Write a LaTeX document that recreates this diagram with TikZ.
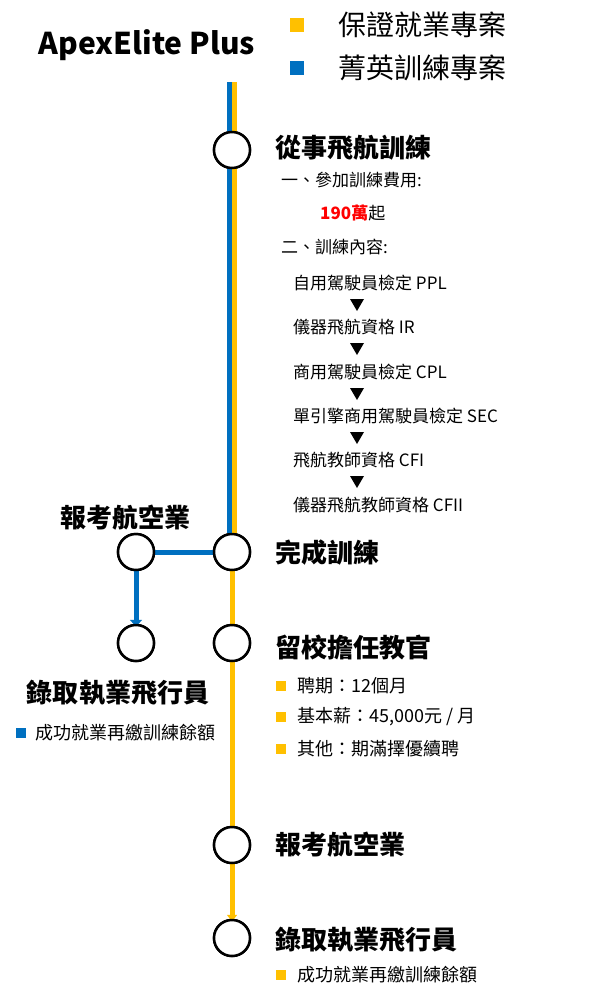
\documentclass[tikz,border=0pt]{standalone}
\usepackage{fontspec}
\setmainfont{Noto Sans CJK TC}
\usetikzlibrary{arrows.meta}
\definecolor{gold}{HTML}{FFC000}
\definecolor{azure}{HTML}{0070C0}
\definecolor{redtxt}{HTML}{FF0000}
\begin{document}
\begin{tikzpicture}
        [x=1pt, y=-1pt,
        station/.style={circle, draw=black, line width=2.5pt, fill=white, minimum size=36pt, inner sep=0pt},
        heading/.style={anchor=west, font=\fontsize{26}{28}\selectfont\bfseries, inner sep=0pt},
        detail/.style={anchor=west, font=\fontsize{17}{19}\selectfont, inner sep=0pt},
        bullet/.style={anchor=west, font=\fontsize{18}{20}\selectfont, inner sep=0pt},
        yline/.style={draw=gold, line width=5pt},
        bline/.style={draw=azure, line width=5pt},]

        \useasboundingbox (0,0) rectangle (600,998);

        % title and legend
        \node[font=\fontsize{30}{32}\selectfont\bfseries, inner sep=0pt] (title) at (147,45) {ApexElite Plus};
        \fill[gold] (290,18) rectangle (304,32);
        \fill[azure] (290,61) rectangle (304,75);
        \node[anchor=west, font=\fontsize{28}{30}\selectfont, inner sep=0pt] (lgold) at (338,25) {保證就業專案};
        \node[anchor=west, font=\fontsize{28}{30}\selectfont, inner sep=0pt] (lblue) at (338,68) {菁英訓練專案};

        % stations
        \coordinate (top) at (232,82);
        \node[station] (train) at (232,150) {};
        \node[station] (done) at (232,552) {};
        \node[station] (stay) at (232,643) {};
        \node[station] (apply) at (232,845) {};
        \node[station] (hired) at (232,938) {};
        \node[station] (applyL) at (136,552) {};
        \node[station] (hiredL) at (136,643) {};

        % lines
        \draw[bline] ([xshift=-2.5pt]top) -- ([xshift=-2.5pt]done.north);
        \draw[yline] ([xshift=2.5pt]top) -- ([xshift=2.5pt]done.north);
        \draw[yline] (done) -- (stay);
        \draw[yline] (stay) -- (apply);
        \draw[yline, -{Triangle[length=7pt, width=10pt]}] (apply.south) -- ([yshift=-3pt]hired.north);
        \draw[bline] (done.west) -- (applyL.east);
        \draw[bline, -{Triangle[length=7pt, width=12pt]}] (applyL.south) -- ([yshift=-3pt]hiredL.north);
        \foreach \s in {train, done, stay, apply, hired, applyL, hiredL}
            \node[station] at (\s) {};

        % training block
        \node[heading] (h1) at (275,148) {從事飛航訓練};
        \node[detail] (fee) at (281,180) {一、參加訓練費用:};
        \node[detail] (price) at (320,213) {\textcolor{redtxt}{\bfseries 190萬}起};
        \node[detail] (items) at (281,247) {二、訓練內容:};
        \node[detail] (ppl) at (293,283) {自用駕駛員檢定 PPL};
        \node[detail] (ir) at (293,327) {儀器飛航資格 IR};
        \node[detail] (cpl) at (293,372) {商用駕駛員檢定 CPL};
        \node[detail] (sec) at (293,416) {單引擎商用駕駛員檢定 SEC};
        \node[detail] (cfi) at (293,460) {飛航教師資格 CFI};
        \node[detail] (cfii) at (293,505) {儀器飛航教師資格 CFII};
        \foreach \y in {305,349,394,438,482}
            \fill (350,\y-6) -- (364,\y-6) -- (357,\y+6) -- cycle;

        % lower headings
        \node[heading, anchor=center] (hL1) at (125,518) {報考航空業};
        \node[heading] (h2) at (275,553) {完成訓練};
        \node[heading] (h3) at (275,647) {留校擔任教官};
        \node[heading, anchor=center] (hL2) at (118,693) {錄取執業飛行員};
        \node[heading] (h4) at (275,845) {報考航空業};
        \node[heading] (h5) at (275,940) {錄取執業飛行員};

        % bullets
        \foreach \y/\t in {686/{聘期：12個月}, 717/{基本薪：45,000元 / 月}, 749/{其他：期滿擇優續聘}, 975/{成功就業再繳訓練餘額}} {
            \fill[gold] (276,\y-5) rectangle (286,\y+5);
            \node[bullet] at (297,\y) {\t};
        }
        \fill[azure] (16,728) rectangle (26,738);
        \node[bullet] (noteL) at (35,733) {成功就業再繳訓練餘額};

    \end{tikzpicture}
\end{document}
